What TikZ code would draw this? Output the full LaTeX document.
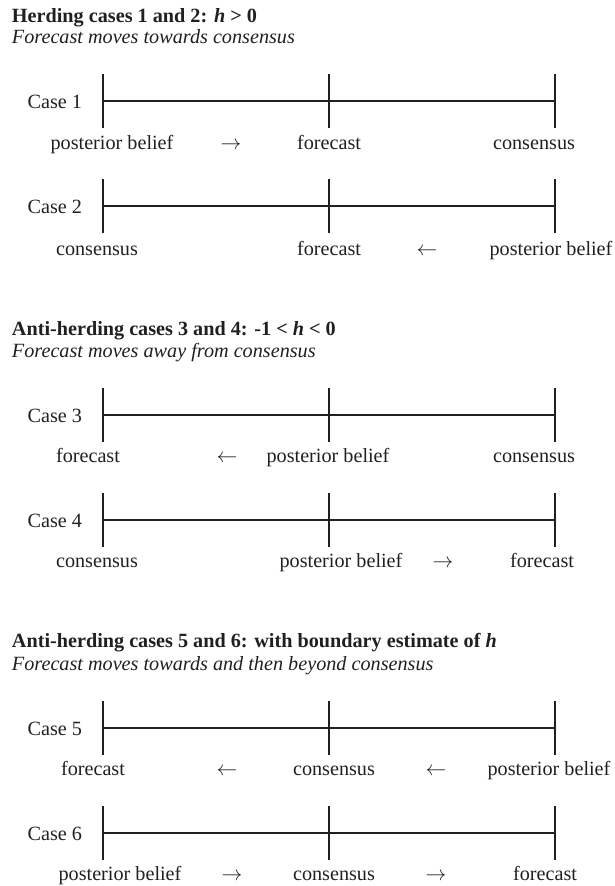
\documentclass[tikz,border=0pt]{standalone}
\usepackage{fontspec}
\setmainfont{Liberation Serif}
\definecolor{ink}{HTML}{231F20}
\begin{document}
\begin{tikzpicture}[x=1pt,y=-1pt,
  every node/.style={inner sep=0pt,outer sep=0pt,text=ink,font=\fontsize{20.2}{24}\selectfont},
  lbl/.style={anchor=base},
  caselbl/.style={anchor=base east},
  ttl/.style={anchor=base west,font=\fontsize{20.2}{24}\selectfont\bfseries},
  subttl/.style={anchor=base west,font=\fontsize{20.2}{24}\selectfont\itshape},
  bar/.style={draw=ink,line width=2pt}]
\useasboundingbox (0,0) rectangle (615,886);

% ---------- Section 1
\node[ttl] (t1) at (12,23) {Herding cases 1 and 2: \textit{h} > 0};
\node[subttl] (s1) at (12,43) {Forecast moves towards consensus};

% Case 1
\coordinate (a1) at (103,101); \coordinate (b1) at (329,101); \coordinate (c1) at (555,101);
\draw[bar] (a1) -- (c1);
\foreach \p in {a1,b1,c1} \draw[bar] (\p) ++(0,-27) -- ++(0,54);
\node[caselbl] (k1) at (82,108.5) {Case 1};
\node[lbl] (p1a) at (112,149) {posterior belief};
\node[lbl] (p1b) at (231,149) {$\rightarrow$};
\node[lbl] (p1c) at (329,149) {forecast};
\node[lbl] (p1d) at (534,149) {consensus};

% Case 2
\coordinate (a2) at (103,206); \coordinate (b2) at (329,206); \coordinate (c2) at (555,206);
\draw[bar] (a2) -- (c2);
\foreach \p in {a2,b2,c2} \draw[bar] (\p) ++(0,-27) -- ++(0,54);
\node[caselbl] (k2) at (82,213.5) {Case 2};
\node[lbl] (p2a) at (97,255) {consensus};
\node[lbl] (p2b) at (329,255) {forecast};
\node[lbl] (p2c) at (427,255) {$\leftarrow$};
\node[lbl] (p2d) at (551,255) {posterior belief};

% ---------- Section 2
\node[ttl] (t2) at (12,335) {Anti-herding cases 3 and 4: -1 < \textit{h} < 0};
\node[subttl] (s2) at (12,357) {Forecast moves away from consensus};

% Case 3
\coordinate (a3) at (103,415); \coordinate (b3) at (329,415); \coordinate (c3) at (555,415);
\draw[bar] (a3) -- (c3);
\foreach \p in {a3,b3,c3} \draw[bar] (\p) ++(0,-27) -- ++(0,54);
\node[caselbl] (k3) at (82,422.5) {Case 3};
\node[lbl] (p3a) at (88,462) {forecast};
\node[lbl] (p3b) at (227,462) {$\leftarrow$};
\node[lbl] (p3c) at (328,462) {posterior belief};
\node[lbl] (p3d) at (534,462) {consensus};

% Case 4
\coordinate (a4) at (103,520); \coordinate (b4) at (329,520); \coordinate (c4) at (555,520);
\draw[bar] (a4) -- (c4);
\foreach \p in {a4,b4,c4} \draw[bar] (\p) ++(0,-27) -- ++(0,54);
\node[caselbl] (k4) at (82,527.5) {Case 4};
\node[lbl] (p4a) at (97,567) {consensus};
\node[lbl] (p4b) at (341,567) {posterior belief};
\node[lbl] (p4c) at (443,567) {$\rightarrow$};
\node[lbl] (p4d) at (542,567) {forecast};

% ---------- Section 3
\node[ttl] (t3) at (12,647) {Anti-herding cases 5 and 6: with boundary estimate of \textit{h}};
\node[subttl] (s3) at (12,670) {Forecast moves towards and then beyond consensus};

% Case 5
\coordinate (a5) at (103,728); \coordinate (b5) at (329,728); \coordinate (c5) at (555,728);
\draw[bar] (a5) -- (c5);
\foreach \p in {a5,b5,c5} \draw[bar] (\p) ++(0,-27) -- ++(0,54);
\node[caselbl] (k5) at (82,735.5) {Case 5};
\node[lbl] (p5a) at (93,775) {forecast};
\node[lbl] (p5b) at (227,775) {$\leftarrow$};
\node[lbl] (p5c) at (334,775) {consensus};
\node[lbl] (p5d) at (436,775) {$\leftarrow$};
\node[lbl] (p5e) at (549,775) {posterior belief};

% Case 6
\coordinate (a6) at (103,833); \coordinate (b6) at (329,833); \coordinate (c6) at (555,833);
\draw[bar] (a6) -- (c6);
\foreach \p in {a6,b6,c6} \draw[bar] (\p) ++(0,-27) -- ++(0,54);
\node[caselbl] (k6) at (82,840.5) {Case 6};
\node[lbl] (p6a) at (120,880) {posterior belief};
\node[lbl] (p6b) at (232,880) {$\rightarrow$};
\node[lbl] (p6c) at (334,880) {consensus};
\node[lbl] (p6d) at (436,880) {$\rightarrow$};
\node[lbl] (p6e) at (545,880) {forecast};
\end{tikzpicture}
\end{document}
